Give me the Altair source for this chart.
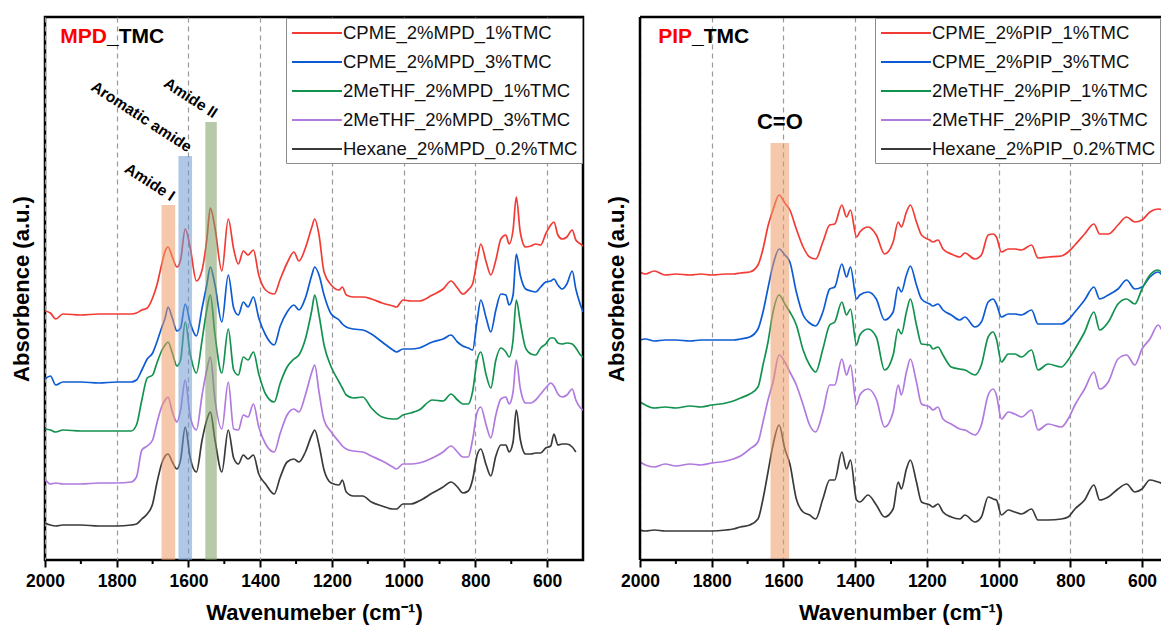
import altair as alt
import pandas as pd

FONT = "Liberation Sans"

MPD_NAMES = ["CPME_2%MPD_1%TMC", "CPME_2%MPD_3%TMC", "2MeTHF_2%MPD_1%TMC",
             "2MeTHF_2%MPD_3%TMC", "Hexane_2%MPD_0.2%TMC"]
PIP_NAMES = ["CPME_2%PIP_1%TMC", "CPME_2%PIP_3%TMC", "2MeTHF_2%PIP_1%TMC",
             "2MeTHF_2%PIP_3%TMC", "Hexane_2%PIP_0.2%TMC"]
COLORS = ["#F23B35", "#0D5BD3", "#13924F", "#B07ADF", "#3A3A3A"]
MAJOR_TICKS = [2000, 1800, 1600, 1400, 1200, 1000, 800, 600]
MINOR_TICKS = [1900, 1700, 1500, 1300, 1100, 900, 700, 500]

# ---------------- MPD_TMC panel (wavenumber, absorbance a.u.) ----------------
MPD_X = [2000, 1985, 1970, 1950, 1900, 1850, 1800, 1760, 1745, 1730,
         1715, 1700, 1688, 1675, 1665, 1657, 1645, 1632, 1622, 1609,
         1595, 1578, 1562, 1549, 1539, 1526, 1507, 1489, 1474, 1461,
         1447, 1434, 1419, 1404, 1385, 1361, 1344, 1325, 1306, 1292,
         1274, 1256, 1248, 1236, 1222, 1202, 1180, 1171, 1160, 1140,
         1114, 1090, 1060, 1030, 1020, 1002, 980, 957, 920, 890,
         868, 850, 835, 820, 808, 795, 785, 770, 757, 743,
         729, 715, 706, 695, 686, 675, 660, 645, 632, 618,
         604, 590, 581, 570, 558, 545, 530, 520, 507, 500]
MPD_CPME_1 = [249, 247, 241, 246, 245, 246, 246, 246, 247, 250,
              252, 262, 275, 295, 309, 313, 303, 293, 300, 331,
              312, 279, 290, 320, 352, 332, 289, 341, 311, 296,
              309, 305, 310, 285, 270, 266, 281, 297, 308, 299,
              312, 333, 341, 325, 288, 275, 270, 273, 265, 263,
              263, 261, 257, 254, 253, 260, 259, 259, 265, 271,
              279, 272, 266, 270, 276, 300, 316, 298, 285, 300,
              321, 325, 316, 330, 363, 328, 313, 314, 316, 315,
              326, 335, 338, 325, 321, 323, 330, 320, 316, 314]
MPD_CPME_3 = [181, 184, 175, 178, 178, 177, 178, 178, 180, 190,
              201, 207, 218, 232, 242, 253, 242, 229, 232, 256,
              237, 224, 252, 275, 293, 275, 238, 285, 252, 245,
              258, 253, 263, 242, 225, 215, 234, 248, 255, 250,
              262, 285, 293, 285, 265, 246, 240, 236, 233, 231,
              230, 226, 218, 210, 208, 211, 211, 212, 218, 221,
              225, 218, 214, 212, 210, 240, 260, 242, 228, 250,
              266, 265, 255, 265, 306, 285, 271, 269, 268, 273,
              278, 279, 281, 275, 271, 276, 289, 271, 255, 248]
MPD_METHF_1 = [131, 130, 128, 130, 129, 129, 129, 129, 135, 160,
               182, 185, 197, 209, 215, 218, 207, 194, 200, 238,
               206, 187, 220, 250, 265, 225, 187, 231, 190, 185,
               203, 200, 208, 186, 166, 158, 177, 193, 201, 205,
               221, 250, 265, 245, 215, 193, 178, 172, 165, 162,
               163, 152, 143, 141, 141, 145, 147, 150, 160, 159,
               166, 160, 156, 156, 168, 200, 208, 185, 172, 200,
               212, 208, 203, 220, 260, 238, 212, 206, 205, 212,
               216, 222, 222, 217, 216, 217, 216, 212, 205, 203]
MPD_METHF_3 = [81, 76, 77, 76, 76, 77, 77, 78, 83, 110,
               114, 120, 137, 153, 160, 163, 148, 138, 150, 180,
               143, 130, 165, 190, 203, 160, 131, 178, 131, 130,
               145, 143, 156, 133, 116, 108, 127, 145, 151, 148,
               165, 188, 195, 168, 140, 128, 118, 114, 111, 109,
               108, 104, 99, 93, 91, 96, 96, 97, 102, 108,
               114, 108, 103, 103, 120, 148, 153, 135, 122, 145,
               161, 163, 156, 168, 200, 172, 157, 157, 160, 166,
               172, 177, 174, 166, 163, 165, 171, 160, 152, 150]
MPD_HEXANE = [37, 35, 34, 35, 35, 34, 34, 35, 36, 41,
              46, 56, 77, 96, 104, 106, 98, 91, 100, 133,
              102, 88, 120, 140, 148, 120, 88, 130, 102, 96,
              105, 101, 105, 86, 76, 66, 83, 98, 101, 98,
              108, 125, 130, 115, 90, 77, 75, 80, 68, 64,
              64, 58, 54, 51, 51, 56, 56, 59, 67, 73,
              78, 73, 67, 69, 80, 105, 111, 95, 84, 104,
              115, 115, 108, 118, 150, 121, 106, 106, 107, 107,
              112, 114, 126, 115, 116, 116, 113, 108, None, None]

MPD_BAND_NAMES = ["Amide I", "Aromatic amide", "Amide II"]
MPD_BAND_LO = [1637, 1590, 1521]
MPD_BAND_HI = [1675, 1628, 1553]
MPD_BAND_TOP = [355, 404, 438]
MPD_BAND_FILL = ["#EE9A66", "#6F9BD1", "#7E9C62"]

# ---------------- PIP_TMC panel ----------------
PIP_X = [2000, 1985, 1960, 1930, 1900, 1860, 1830, 1800, 1760, 1740,
         1720, 1694, 1671, 1657, 1643, 1629, 1612, 1596, 1582, 1564,
         1545, 1527, 1510, 1490, 1471, 1457, 1437, 1424, 1413, 1396,
         1387, 1364, 1341, 1318, 1294, 1280, 1271, 1257, 1246, 1229,
         1215, 1192, 1183, 1169, 1155, 1132, 1108, 1094, 1066, 1048,
         1029, 1015, 1006, 992, 973, 955, 936, 908, 890, 862,
         825, 806, 787, 760, 734, 718, 694, 667, 643, 620,
         600, 578, 555, 536, 515, 500]
PIP_CPME_1 = [288, 286, 289, 285, 286, 285, 286, 285, 286, 286,
              287, 288, 295, 311, 334, 350, 365, 357, 350, 331,
              313, 303, 301, 318, 335, 336, 355, 343, 350, 323,
              328, 333, 325, 306, 318, 338, 333, 348, 355, 338,
              325, 320, 318, 320, 311, 306, 303, 307, 301, 305,
              325, 326, 323, 308, 311, 311, 310, 315, 302, 303,
              304, 308, 315, 326, 336, 326, 326, 335, 343, 338,
              340, 348, 351, 350, 352, 350]
PIP_CPME_3 = [220, 221, 219, 220, 220, 219, 220, 220, 220, 220,
              221, 223, 231, 248, 272, 295, 311, 305, 298, 268,
              245, 237, 234, 248, 271, 273, 296, 283, 293, 261,
              265, 268, 261, 240, 248, 273, 268, 285, 294, 275,
              261, 256, 254, 256, 250, 245, 240, 243, 233, 238,
              258, 261, 256, 243, 246, 246, 245, 250, 236, 236,
              236, 240, 248, 260, 273, 261, 265, 271, 280, 271,
              273, 283, 288, 283, 285, 283]
PIP_METHF_1 = [158, 155, 152, 153, 152, 154, 153, 155, 157, 159,
               162, 166, 173, 195, 218, 248, 265, 256, 248, 235,
               210, 195, 188, 211, 235, 238, 258, 245, 251, 215,
               225, 231, 223, 190, 205, 231, 226, 248, 261, 235,
               216, 215, 211, 213, 205, 193, 191, 190, 185, 195,
               223, 228, 221, 198, 206, 206, 203, 210, 190, 196,
               193, 200, 211, 228, 248, 230, 238, 256, 261, 256,
               271, 285, 290, 285, 287, 285]
PIP_METHF_3 = [98, 95, 93, 96, 94, 96, 95, 97, 99, 101,
               104, 111, 118, 138, 160, 178, 205, 198, 188, 175,
               155, 135, 128, 148, 175, 175, 201, 185, 195, 155,
               165, 171, 161, 133, 148, 175, 165, 188, 201, 178,
               156, 153, 150, 153, 141, 136, 131, 130, 125, 135,
               165, 171, 165, 141, 148, 146, 143, 150, 130, 136,
               133, 141, 155, 171, 188, 171, 178, 201, 205, 195,
               211, 221, 235, 226, 230, 228]
PIP_HEXANE = [30, 29, 30, 29, 29, 29, 29, 29, 30, 31,
              33, 35, 41, 61, 88, 115, 135, 111, 96, 61,
              48, 45, 41, 61, 80, 80, 108, 91, 100, 60,
              58, 65, 55, 43, 51, 78, 71, 91, 100, 78,
              58, 55, 53, 56, 48, 43, 41, 45, 38, 43,
              63, 61, 60, 45, 50, 48, 46, 51, 40, 40,
              41, 43, 51, 60, 75, 60, 63, 71, 76, 68,
              71, 80, 78, 76, 77, 76]

PIP_BAND_NAMES = ["C=O"]
PIP_BAND_LO = [1584]
PIP_BAND_HI = [1636]
PIP_BAND_TOP = [417]
PIP_BAND_FILL = ["#EE9A66"]

Y_MAX = 543


def long_df(xs, names, series):
    rows = []
    for name, ys in zip(names, series):
        assert len(ys) == len(xs), (name, len(ys), len(xs))
        for xv, yv in zip(xs, ys):
            if yv is not None:
                rows.append({"wn": xv, "a": yv, "series": name})
    return pd.DataFrame(rows)


def band_df(names, lo, hi, top, fill):
    return pd.DataFrame({
        "name": names, "lo": lo, "hi": hi, "top": top, "fill": fill,
        "mid": [(a + b) / 2 for a, b in zip(lo, hi)],
        "zero": [0] * len(names),
    })


def panel(xs, names, series, bands, head, tail, split_x, xtitle, band_text_style,
          x_low, width, open_right):
    df = long_df(xs, names, series)
    bdf = band_df(*bands)
    xscale = alt.Scale(domain=[x_low, 2000], reverse=True, nice=False, zero=False)
    yscale = alt.Scale(domain=[0, Y_MAX], nice=False, zero=False)
    xaxis = alt.Axis(
        values=[v for v in MAJOR_TICKS if v >= x_low], format="d",
        tickSize=7, tickWidth=2, tickColor="black", domain=False,
        grid=True, gridDash=[5, 4], gridColor="#9a9a9a", gridWidth=1.2,
        labelFontSize=17.5, labelFontWeight="bold", labelColor="black",
        labelPadding=5, labelFlush=False, labelOverlap=False,
        title=xtitle, titleFontSize=22, titleFontWeight="bold", titleColor="black",
        titlePadding=13,
    )
    yaxis = alt.Axis(title="Absorbence (a.u.)", labels=False, ticks=False, domain=False,
                     grid=False, titleFontSize=22, titleFontWeight="bold",
                     titleColor="black", titlePadding=12)
    legend = alt.Legend(
        title=None, orient="top-right", offset=1, padding=4,
        fillColor="white", strokeColor="#8c8c8c",
        labelFont=FONT, labelFontSize=18.5, labelColor="#111111", labelLimit=400,
        symbolType="M-2.5,0H2.5", symbolSize=400, symbolStrokeWidth=2,
        symbolOffset=16, labelOffset=15, rowPadding=8,
    )
    lines = alt.Chart(df).mark_line(strokeWidth=1.7, interpolate="monotone",
                                    clip=True).encode(
        x=alt.X("wn:Q", scale=xscale, axis=xaxis),
        y=alt.Y("a:Q", scale=yscale, axis=yaxis),
        color=alt.Color("series:N", scale=alt.Scale(domain=names, range=COLORS),
                        legend=legend),
    )
    minor = alt.Chart(pd.DataFrame({"wn": [v for v in MINOR_TICKS if v > x_low]})).mark_rule(
        color="black", strokeWidth=2).encode(
        x="wn:Q", y=alt.value(Y_MAX), y2=alt.value(Y_MAX + 4))
    rects = alt.Chart(bdf).mark_rect(opacity=0.55).encode(
        x="lo:Q", x2="hi:Q", y="top:Q", y2="zero:Q",
        fill=alt.Fill("fill:N", scale=None),
    )
    texts = alt.Chart(bdf).mark_text(font=FONT, color="black", **band_text_style).encode(
        x="mid:Q", y="top:Q", text="name:N",
    )
    h1 = alt.Chart(pd.DataFrame({"t": [head]})).mark_text(
        font=FONT, fontSize=21, fontWeight="bold", color="#FF0000",
        align="right", baseline="middle").encode(
        text="t:N", x=alt.value(split_x), y=alt.value(20))
    h2 = alt.Chart(pd.DataFrame({"t": [tail]})).mark_text(
        font=FONT, fontSize=21, fontWeight="bold", color="black",
        align="left", baseline="middle").encode(
        text="t:N", x=alt.value(split_x), y=alt.value(20))
    layers = [lines, minor, rects, texts, h1, h2]
    props = dict(width=width, height=Y_MAX)
    if open_right:
        # frame drawn on three sides only: the reference figure is cut at the right
        frame = alt.Chart(pd.DataFrame({"k": [0]}))
        layers += [
            frame.mark_rule(color="black", strokeWidth=2.5).encode(
                x=alt.value(0), y=alt.value(0), y2=alt.value(Y_MAX)),
            frame.mark_rule(color="black", strokeWidth=2.5).encode(
                x=alt.value(0), x2=alt.value(width), y=alt.value(0)),
            frame.mark_rule(color="black", strokeWidth=2.5).encode(
                x=alt.value(0), x2=alt.value(width), y=alt.value(Y_MAX)),
        ]
        props["view"] = alt.ViewBackground(stroke="transparent", strokeWidth=0)
    return alt.layer(*layers).properties(**props)


left = panel(MPD_X, MPD_NAMES,
             [MPD_CPME_1, MPD_CPME_3, MPD_METHF_1, MPD_METHF_3, MPD_HEXANE],
             (MPD_BAND_NAMES, MPD_BAND_LO, MPD_BAND_HI, MPD_BAND_TOP, MPD_BAND_FILL),
             "MPD", "_TMC", 62, "Wavenumeber (cm\u207b\u00b9)",
             dict(fontSize=15.5, fontWeight="bold", angle=33, align="right",
                  baseline="bottom", dy=-1),
             500, 538, False)
right = panel(PIP_X, PIP_NAMES,
              [PIP_CPME_1, PIP_CPME_3, PIP_METHF_1, PIP_METHF_3, PIP_HEXANE],
              (PIP_BAND_NAMES, PIP_BAND_LO, PIP_BAND_HI, PIP_BAND_TOP, PIP_BAND_FILL),
              "PIP", "_TMC", 52, "Wavenumber (cm\u207b\u00b9)",
              dict(fontSize=22, fontWeight="bold", align="center",
                   baseline="bottom", dy=-9),
              547, 521, True)

chart = alt.hconcat(left, right, spacing=20).resolve_scale(
    color="independent").resolve_legend(color="independent").configure(
    padding={"left": 0, "top": 7, "right": 0, "bottom": 0}, font=FONT,
).configure_view(stroke="black", strokeWidth=2.5).configure_axis(
    labelFont=FONT, titleFont=FONT)

chart.save("out.html", embed_options={"renderer": "svg", "actions": False})
